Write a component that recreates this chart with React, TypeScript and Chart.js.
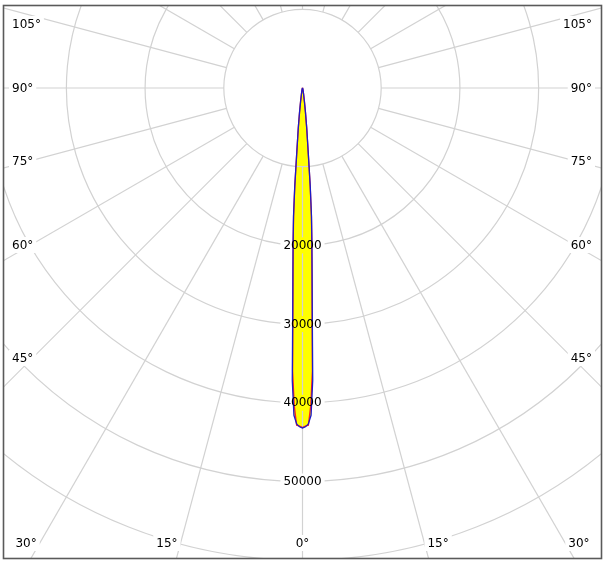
import React, { useEffect, useRef } from 'react';
import { Chart, registerables } from 'chart.js';

Chart.register(...registerables);

// ---- data (candela vs. gamma angle) ----
const ANGLES_DEG = [0, 0.5, 1, 1.5, 2, 2.5, 3, 3.5, 4, 4.5, 5, 6, 7, 8, 10, 12, 15, 20, 30, 45, 60, 90];
const C0_C180 = [43200, 43050, 42700, 41600, 37200, 28500, 23300, 19600, 16400, 12600, 8700, 5200, 3100, 1800, 800, 450, 250, 120, 50, 20, 10, 0];
const C90_C270 = [43150, 42950, 42850, 40300, 36000, 28000, 23000, 19300, 16200, 12400, 8500, 5100, 3000, 1750, 780, 440, 240, 110, 45, 18, 8, 0];

const RADIAL_TICKS = [10000, 20000, 30000, 40000, 50000, 60000];
const RADIAL_LABELS = [20000, 30000, 40000, 50000];
const SPOKE_STEP_DEG = 15;
const SIDE_ANGLE_LABELS = [105, 90, 75, 60, 45];
const BOTTOM_ANGLE_LABELS = [-30, -15, 0, 15, 30];

// ---- layout (pixels) ----
const W = 608;
const H = 567;
const AREA = { left: 4, top: 6, right: 601, bottom: 558 };
const CENTER = { x: 302.5, y: 88 };
const PX_PER_UNIT = 78.7 / 10000;
const SIDE_LABEL_Y = [24, 88, 161, 245, 358];
const BOTTOM_LABEL_Y = 543;
const FONT = '12px "DejaVu Sans", Verdana, sans-serif';

const X_MIN = (AREA.left - CENTER.x) / PX_PER_UNIT;
const X_MAX = (AREA.right - CENTER.x) / PX_PER_UNIT;
const Y_MAX = (CENTER.y - AREA.top) / PX_PER_UNIT;
const Y_MIN = -(AREA.bottom - CENTER.y) / PX_PER_UNIT;

function toPoints(angles: number[], values: number[]) {
  const pts: { x: number; y: number }[] = [];
  for (let i = angles.length - 1; i >= 0; i--) {
    const a = (angles[i] * Math.PI) / 180;
    pts.push({ x: values[i] * Math.sin(a), y: -values[i] * Math.cos(a) });
  }
  for (let i = 1; i < angles.length; i++) {
    const a = (angles[i] * Math.PI) / 180;
    pts.push({ x: -values[i] * Math.sin(a), y: -values[i] * Math.cos(a) });
  }
  return pts;
}

const polarGrid = {
  id: 'polarGrid',
  afterDatasetDraw(chart: any, args: any) {
    if (args.index !== 0) return;
    const { ctx, chartArea } = chart;
    const xs = chart.scales.x;
    const ys = chart.scales.y;
    const cx = xs.getPixelForValue(0);
    const cy = ys.getPixelForValue(0);
    const unit = xs.getPixelForValue(10000) - cx;
    ctx.save();
    ctx.beginPath();
    ctx.rect(chartArea.left, chartArea.top, chartArea.right - chartArea.left, chartArea.bottom - chartArea.top);
    ctx.clip();
    ctx.strokeStyle = '#d2d2d2';
    ctx.lineWidth = 1.2;
    ctx.font = FONT;
    for (const v of RADIAL_TICKS) {
      const R = (v / 10000) * unit;
      ctx.beginPath();
      if (RADIAL_LABELS.includes(v)) {
        const half = ctx.measureText(String(v)).width / 2 + 3;
        const d = Math.asin(Math.min(1, half / R));
        ctx.arc(cx, cy, R, Math.PI / 2 + d, Math.PI / 2 - d + Math.PI * 2);
      } else {
        ctx.arc(cx, cy, R, 0, Math.PI * 2);
      }
      ctx.stroke();
    }
    const r0 = (RADIAL_TICKS[0] / 10000) * unit;
    const rMax = 1200;
    for (let deg = 0; deg < 360; deg += SPOKE_STEP_DEG) {
      const a = (deg * Math.PI) / 180;
      const dx = Math.sin(a);
      const dy = Math.cos(a);
      if (deg === 0) {
        let start = r0;
        for (const v of RADIAL_LABELS) {
          const R = (v / 10000) * unit;
          ctx.beginPath();
          ctx.moveTo(cx, cy + start);
          ctx.lineTo(cx, cy + R - 8);
          ctx.stroke();
          start = R + 8;
        }
        ctx.beginPath();
        ctx.moveTo(cx, cy + start);
        ctx.lineTo(cx, cy + rMax);
        ctx.stroke();
      } else {
        ctx.beginPath();
        ctx.moveTo(cx + dx * r0, cy + dy * r0);
        ctx.lineTo(cx + dx * rMax, cy + dy * rMax);
        ctx.stroke();
      }
    }
    ctx.restore();
  },
  afterDatasetsDraw(chart: any) {
    const { ctx, chartArea } = chart;
    const xs = chart.scales.x;
    const ys = chart.scales.y;
    const cx = xs.getPixelForValue(0);
    const cy = ys.getPixelForValue(0);
    const unit = xs.getPixelForValue(10000) - cx;
    ctx.save();
    ctx.font = FONT;
    ctx.textBaseline = 'middle';
    ctx.fillStyle = '#000';
    ctx.textAlign = 'center';
    for (const v of RADIAL_LABELS) {
      const R = (v / 10000) * unit;
      ctx.fillText(String(v), cx, cy + R + 0.5);
    }
    const drawLabel = (text: string, x: number, y: number, align: 'left' | 'right' | 'center') => {
      const w = ctx.measureText(text).width;
      let left = x;
      if (align === 'center') left = x - w / 2;
      if (align === 'right') left = x - w;
      ctx.fillStyle = '#fff';
      ctx.fillRect(left - 3, y - 8, w + 6, 16);
      ctx.fillStyle = '#000';
      ctx.textAlign = align;
      ctx.fillText(text, x, y + 0.5);
    };
    SIDE_ANGLE_LABELS.forEach((a, i) => {
      const y = SIDE_LABEL_Y[i];
      drawLabel(`${a}°`, chartArea.left + 8, y, 'left');
      drawLabel(`${a}°`, chartArea.right - 9, y, 'right');
    });
    for (const a of BOTTOM_ANGLE_LABELS) {
      const t = Math.tan((Math.abs(a) * Math.PI) / 180);
      const off = a === 0 ? 0 : (BOTTOM_LABEL_Y - cy) * t + 13.7;
      const x = cx + Math.sign(a) * off;
      drawLabel(`${Math.abs(a)}°`, x, BOTTOM_LABEL_Y, 'center');
    }
    ctx.restore();
  },
  afterDraw(chart: any) {
    const { ctx } = chart;
    ctx.save();
    ctx.strokeStyle = '#5a5a5a';
    ctx.lineWidth = 1.6;
    ctx.strokeRect(3.5, 5.5, 598, 553);
    ctx.restore();
  },
};

export default function App() {
  const ref = useRef<HTMLCanvasElement>(null);
  useEffect(() => {
    const canvas = ref.current;
    if (!canvas) return;
    const c0 = toPoints(ANGLES_DEG, C0_C180);
    const c90 = toPoints(ANGLES_DEG, C90_C270);
    const common = { showLine: true, pointRadius: 0, tension: 0.0001 };
    const chart = new Chart(canvas, {
      type: 'scatter',
      data: {
        datasets: [
          {
            ...common,
            label: 'fill',
            data: c0,
            fill: 'shape',
            backgroundColor: '#ffff00',
            borderColor: 'rgba(0,0,0,0)',
            borderWidth: 0,
            order: 3,
          } as any,
          {
            ...common,
            label: 'C90-C270',
            data: c90,
            fill: false,
            borderColor: '#ff2020',
            borderWidth: 1.3,
            order: 2,
          },
          {
            ...common,
            label: 'C0-C180',
            data: c0,
            fill: false,
            borderColor: '#1c1cc8',
            borderWidth: 1.3,
            order: 1,
          },
        ],
      },
      options: {
        responsive: false,
        animation: false,
        events: [],
        layout: { padding: { left: AREA.left, top: AREA.top, right: W - AREA.right, bottom: H - AREA.bottom } },
        plugins: { legend: { display: false }, tooltip: { enabled: false } },
        scales: {
          x: { type: 'linear', display: false, min: X_MIN, max: X_MAX },
          y: { type: 'linear', display: false, min: Y_MIN, max: Y_MAX },
        },
      },
      plugins: [polarGrid],
    });
    return () => chart.destroy();
  }, []);
  return (
    <div style={{ position: 'fixed', left: 0, top: 0, width: W, height: H, background: '#fff' }}>
      <canvas ref={ref} width={W} height={H} style={{ width: W, height: H, display: 'block' }} />
    </div>
  );
}
